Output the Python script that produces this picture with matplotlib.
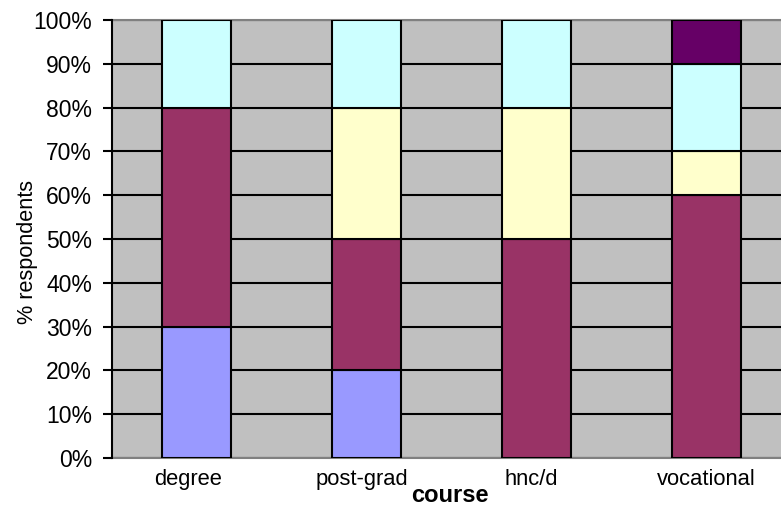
import matplotlib
matplotlib.use("Agg")
import matplotlib.pyplot as plt
import matplotlib.transforms as mtransforms
import numpy as np

plt.rcParams['font.family'] = ['Liberation Sans', 'DejaVu Sans']

courses = ["degree", "post-grad", "hnc/d", "vocational"]
series_a = [30, 20, 0, 0]      # blue
series_b = [50, 30, 50, 60]    # maroon
series_c = [0, 30, 30, 10]     # pale yellow
series_d = [20, 20, 20, 20]    # pale cyan
series_e = [0, 0, 0, 10]       # purple
colors = ["#9999FF", "#993366", "#FFFFCC", "#CCFFFF", "#660066"]
yticks = list(range(0, 101, 10))

fig = plt.figure(figsize=(7.81, 5.15), dpi=100)
W, H = 781, 515
ax = fig.add_axes([111.5 / W, (H - 458) / H, 680 / W, 438 / H])
ax.set_facecolor("#C0C0C0")

x = np.arange(len(courses))
bottom = np.zeros(len(courses))
for vals, col in zip([series_a, series_b, series_c, series_d, series_e], colors):
    vals = np.array(vals, dtype=float)
    mask = vals > 0
    ax.bar(x[mask], vals[mask], width=0.406, bottom=bottom[mask], color=col,
           edgecolor="black", linewidth=1.5, zorder=3)
    bottom += vals

ax.set_xlim(-0.5, 3.5)
ax.set_ylim(0, 100)
ax.set_yticks(yticks)
ax.set_yticklabels([f"{v}%" for v in yticks], fontsize=16.5)
ax.set_xticks(x)
ax.set_xticklabels(courses, fontsize=15.8)
ax.tick_params(axis='x', length=0, pad=8)
ax.tick_params(axis='y', length=6.5, width=1.5, direction='out', pad=7.5)
ax.yaxis.grid(True, color="black", linewidth=1.5, zorder=1)
ax.set_axisbelow(True)

# small horizontal nudges of the category labels
nudges_px = [-8, -5, -5, 0]
for lab, dx in zip(ax.get_xticklabels(), nudges_px):
    lab.set_transform(lab.get_transform() +
                      mtransforms.ScaledTranslation(dx / 100, 0, fig.dpi_scale_trans))

for s in ["top", "bottom"]:
    ax.spines[s].set_color("#808080")
    ax.spines[s].set_linewidth(1.5)
ax.spines["right"].set_visible(False)
ax.spines["left"].set_color("black")
ax.spines["left"].set_linewidth(1.5)
ax.spines["left"].set_zorder(4)

fig.text(28 / W, 1 - 252 / H, "% respondents", rotation=90, fontsize=15.6,
         ha="center", va="center")
fig.text(449.5 / W, 1 - 502 / H, "course", fontsize=17, fontweight="bold",
         ha="center", va="baseline")

fig.savefig("out.png", dpi=100)
